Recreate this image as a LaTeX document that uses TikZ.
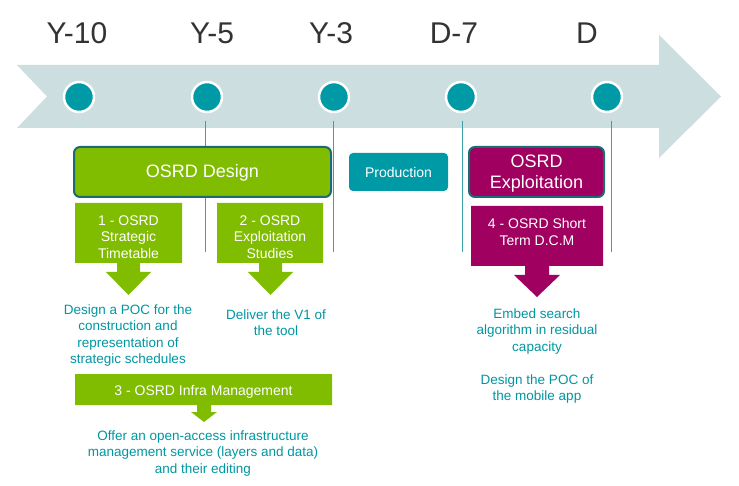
\documentclass[tikz,border=0pt]{standalone}
\usepackage{fontspec}
\setmainfont{Liberation Sans}
\definecolor{arrowbg}{HTML}{CCDEE0}
\definecolor{teal1}{HTML}{009AA6}
\definecolor{green1}{HTML}{80BC00}
\definecolor{purple1}{HTML}{A0005F}
\definecolor{darkteal}{HTML}{1A6B73}
\definecolor{tealtext}{HTML}{0096A1}
\definecolor{linecol}{HTML}{3AA0AA}
\definecolor{labelgray}{HTML}{333333}
\begin{document}
\begin{tikzpicture}[x=1pt,y=-1pt,
  yearlabel/.style={inner sep=0pt,text=labelgray,font=\fontsize{30}{32}\selectfont},
  dot/.style={circle,fill=teal1,draw=white,line width=2.5pt,minimum size=30pt,inner sep=0pt},
  tick/.style={linecol,line width=1pt},
  headbox/.style={rounded corners=6pt,draw=darkteal,line width=2pt},
  headtext/.style={text=white,align=center,inner sep=0pt,font=\fontsize{18}{21}\selectfont},
  boxtext/.style={text=white,align=center,inner sep=0pt,font=\fontsize{14}{16.5}\selectfont},
  desc/.style={text=tealtext,align=center,inner sep=0pt,font=\fontsize{13.5}{16.5}\selectfont}]
\useasboundingbox (0,0) rectangle (739,486);

% timeline arrow
\fill[arrowbg] (17,65) -- (659,65) -- (659,35) -- (721,96.5) -- (659,158) -- (659,128) -- (17,128) -- (47,96.5) -- cycle;

% ticks
\coordinate (t1a) at (205,121); \coordinate (t1b) at (205,252);
\coordinate (t2a) at (333,121); \coordinate (t2b) at (333,252);
\coordinate (t3a) at (462,121); \coordinate (t3b) at (462,252);
\coordinate (t4a) at (611,121); \coordinate (t4b) at (611,252);
\draw[tick] (t1a) -- (t1b);
\draw[tick] (t2a) -- (t2b);
\draw[tick] (t3a) -- (t3b);
\draw[tick] (t4a) -- (t4b);

% dots
\node[dot] (d1) at (79,97) {};
\node[dot] (d2) at (207,97) {};
\node[dot] (d3) at (334,97) {};
\node[dot] (d4) at (461,97) {};
\node[dot] (d5) at (607,97) {};

% year labels
\node[yearlabel] (y10) at (77,33) {Y-10};
\node[yearlabel] (y5) at (212,33) {Y-5};
\node[yearlabel] (y3) at (331,33) {Y-3};
\node[yearlabel] (d7) at (454,33) {D-7};
\node[yearlabel] (dd) at (587,33) {D};

% header boxes
\path[headbox,fill=green1] (74,147) rectangle (331,197);
\node[headtext] (design) at (202.5,172.5) {OSRD Design};
\fill[teal1,rounded corners=4pt] (349,153) rectangle (448,191);
\node[boxtext] (prod) at (398.5,172.5) {Production};
\path[headbox,fill=purple1] (469,147) rectangle (604,197);
\node[headtext] (exploit) at (536.5,174) {OSRD\\Exploitation};

% callout boxes
\fill[green1] (75,203) -- (182,203) -- (182,263) -- (140,263) -- (140,272) -- (151,272) -- (128.5,295) -- (106,272) -- (117,272) -- (117,263) -- (75,263) -- cycle;
\node[boxtext] (b1) at (128.5,237) {1 - OSRD\\Strategic\\Timetable};

\fill[green1] (217,203) -- (323,203) -- (323,263) -- (282,263) -- (282,272) -- (293,272) -- (270.5,295) -- (248,272) -- (259,272) -- (259,263) -- (217,263) -- cycle;
\node[boxtext] (b2) at (270,237) {2 - OSRD\\Exploitation\\Studies};

\fill[purple1] (471,206) -- (603,206) -- (603,266) -- (549,266) -- (549,275) -- (560,275) -- (537,297) -- (514,275) -- (525,275) -- (525,266) -- (471,266) -- cycle;
\node[boxtext] (b4) at (537,232) {4 - OSRD Short\\Term D.C.M};

\fill[green1] (75,374) -- (332,374) -- (332,405) -- (211,405) -- (211,412) -- (217,412) -- (204,422) -- (191,412) -- (197,412) -- (197,405) -- (75,405) -- cycle;
\node[boxtext] (b3) at (203.5,391.5) {3 - OSRD Infra Management};

% descriptions
\node[desc] (t1) at (128,335.5) {Design a POC for the\\construction and\\representation of\\strategic schedules};
\node[desc] (t2) at (276,322.5) {Deliver the V1 of\\the tool};
\node[desc] (t3) at (203,453.5) {Offer an open-access infrastructure\\management service (layers and data)\\and their editing};
\node[desc] (t4) at (537,331.5) {Embed search\\algorithm in residual\\capacity};
\node[desc] (t5) at (537,389) {Design the POC of\\the mobile app};
\end{tikzpicture}
\end{document}
